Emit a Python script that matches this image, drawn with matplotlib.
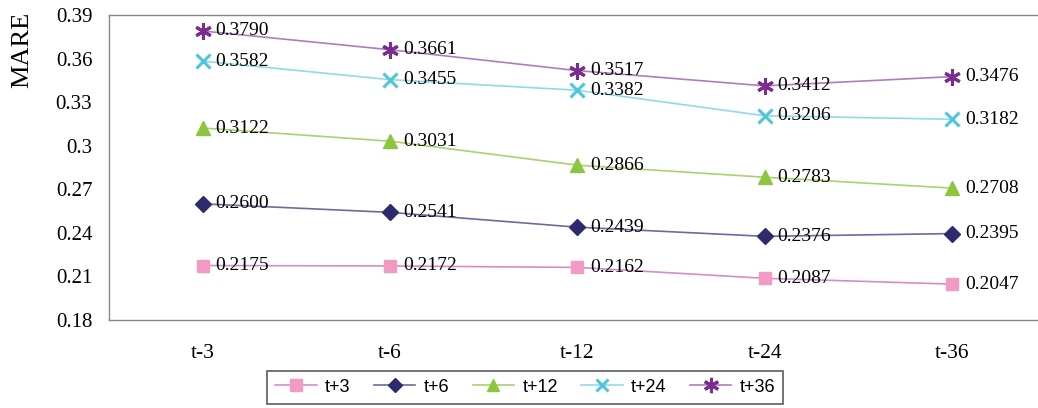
import numpy as np
import matplotlib.pyplot as plt
from matplotlib.lines import Line2D

# --- Data ---
categories = ["t-3", "t-6", "t-12", "t-24", "t-36"]
series_names = ["t+3", "t+6", "t+12", "t+24", "t+36"]
t3 = [0.2175, 0.2172, 0.2162, 0.2087, 0.2047]
t6 = [0.2600, 0.2541, 0.2439, 0.2376, 0.2395]
t12 = [0.3122, 0.3031, 0.2866, 0.2783, 0.2708]
t24 = [0.3582, 0.3455, 0.3382, 0.3206, 0.3182]
t36 = [0.3790, 0.3661, 0.3517, 0.3412, 0.3476]
yticks = [0.18, 0.21, 0.24, 0.27, 0.3, 0.33, 0.36, 0.39]
ytick_labels = ["0.18", "0.21", "0.24", "0.27", "0.3", "0.33", "0.36", "0.39"]

# --- Styles ---
line_colors = ["#d58cc8", "#6c6aa0", "#a6d46a", "#8fdbe6", "#b07cc0"]
marker_colors = ["#f39ac4", "#2e2a6e", "#8cc63f", "#4fc6db", "#7b2c8f"]
markers = ["s", "D", "^", "x", (6, 2, 0)]
msizes = [9, 8, 10, 10, 12]

fig = plt.figure(figsize=(10.38, 4.08), dpi=100)
ax = fig.add_axes([0.105, 0.2157, 0.9027, 0.7475])

x = np.arange(len(categories))
all_series = [t3, t6, t12, t24, t36]
handles = []
for vals, name, lc, mc, mk, ms in zip(all_series, series_names, line_colors,
                                      marker_colors, markers, msizes):
    thick = mk in ("x", (6, 2, 0))
    ax.plot(x, vals, color=lc, lw=1.2, zorder=2)
    ax.plot(x, vals, ls="none", marker=mk, ms=ms, color=mc, mec=mc,
            mew=2.2 if thick else 1, zorder=3)
    for xi, v in zip(x, vals):
        ax.text(xi + 0.068, v, f"{v:.4f}", family="Liberation Serif",
                fontsize=14, va="center", ha="left", zorder=4)
    handles.append(Line2D([0], [0], color=lc, lw=1.2, marker=mk, ms=ms - 1,
                          mfc=mc, mec=mc, mew=2.2 if thick else 1))

ax.set_xlim(-0.5, len(categories) - 0.5)
ax.set_ylim(0.18, 0.39)
ax.set_yticks(yticks)
ax.set_yticklabels(ytick_labels, family="Liberation Serif", fontsize=15)
ax.set_xticks(x)
ax.set_xticklabels(categories, family="Liberation Serif", fontsize=15.5)
ax.tick_params(length=0, pad=12)
ax.tick_params(axis="x", pad=17)
for s in ax.spines.values():
    s.set_color("#888888")
    s.set_linewidth(1)

fig.text(0.021, 0.877, "MARE", family="Liberation Serif", fontsize=19,
         rotation=90, ha="center", va="center")

leg = fig.legend(handles, series_names, loc="lower center",
                 bbox_to_anchor=(0.506, -0.012), ncol=5, frameon=True,
                 fancybox=False, edgecolor="#333333", handlelength=2.3,
                 columnspacing=1.3, handletextpad=0.45, borderpad=0.45,
                 prop={"family": "Liberation Sans", "size": 13})
leg.get_frame().set_linewidth(1.2)

fig.savefig("out.png", dpi=100)
